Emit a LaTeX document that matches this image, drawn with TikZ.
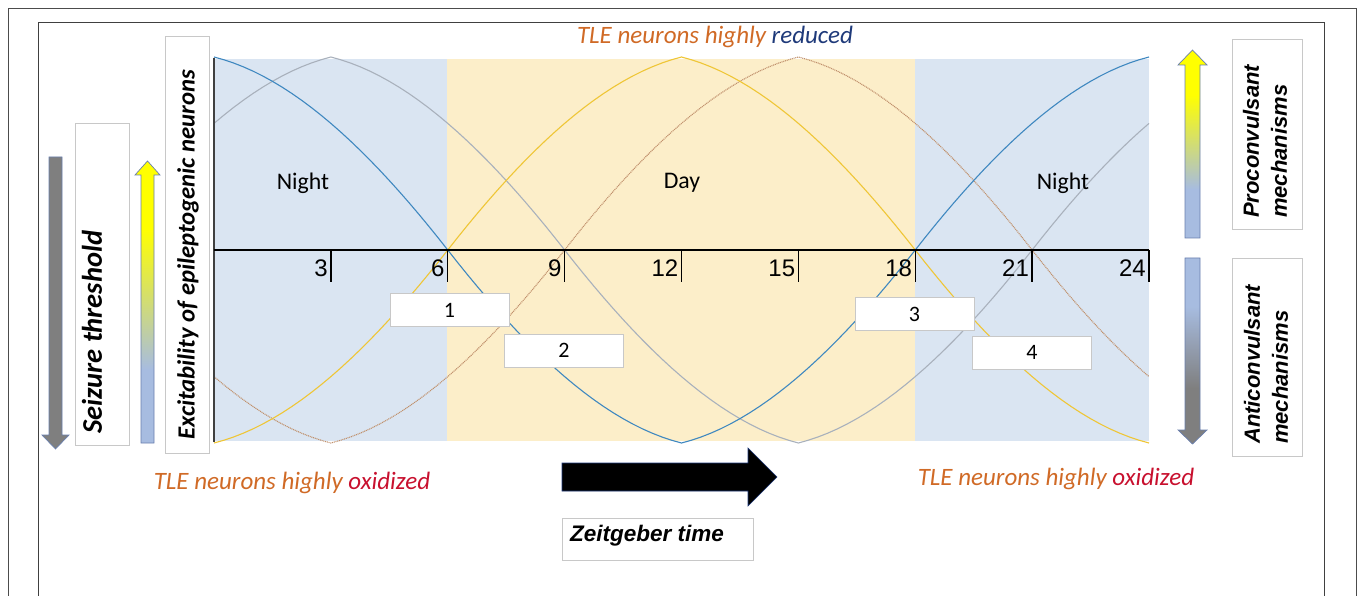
\documentclass[tikz,border=0pt]{standalone}
\usepackage{fontspec}
\newfontfamily\calfont{Carlito}
\newfontfamily\arifont{Liberation Sans}
\definecolor{nightbg}{HTML}{DAE5F2}
\definecolor{daybg}{HTML}{FCEEC9}
\definecolor{cblue}{HTML}{3F88C0}
\definecolor{cgray}{HTML}{A9B1BC}
\definecolor{cyellow}{HTML}{EFC636}
\definecolor{cbrown}{HTML}{C0906C}
\definecolor{tleorange}{HTML}{D06A26}
\definecolor{tlered}{HTML}{C8102E}
\definecolor{tleblue}{HTML}{1F3A7A}
\definecolor{boxgray}{HTML}{C8C8C8}
\definecolor{ablue}{HTML}{A7BCE0}
\definecolor{aborder}{HTML}{6A7FAE}
\definecolor{ayellow}{HTML}{FFFF00}
\definecolor{agray}{HTML}{7F7F7F}
\pgfdeclareverticalshading{yelblue}{100bp}{color(0bp)=(ablue); color(38bp)=(ablue); color(63bp)=(ayellow); color(100bp)=(ayellow)}
\pgfdeclareverticalshading{bluegray}{100bp}{color(0bp)=(agray); color(40bp)=(agray); color(62bp)=(ablue); color(100bp)=(ablue)}
\tikzset{
  declare function={
    ff(\s)=1.55*\s-0.402*\s*\s-0.148*\s*\s*\s;
    ww(\a)=(cos(\a)>=0 ? 1 : -1)*ff(1-acos(abs(cos(\a)))/90);
  },
  numbox/.style={draw=boxgray, fill=white, line width=0.8pt, minimum width=119pt, minimum height=33pt, inner sep=0pt, font=\calfont\fontsize{22}{24}\selectfont},
  lblbox/.style={draw=boxgray, fill=white, line width=0.8pt, inner sep=0pt},
  rotlbl/.style={rotate=90, anchor=west, inner sep=0pt, align=left},
  curve/.style={line width=1.1pt},
  ticklbl/.style={anchor=east, inner sep=0pt, font=\arifont\fontsize{24}{26}\selectfont},
  period/.style={font=\calfont\fontsize{23.8}{26}\selectfont},
  tle/.style={text=tleorange, font=\calfont\itshape\fontsize{25}{28}\selectfont},
}
\begin{document}
\begin{tikzpicture}[x=1pt,y=-1pt]
\useasboundingbox (0,0) rectangle (1358,596);
\clip (0,0) rectangle (1358,596);
% frames
\draw[draw=black!70, line width=0.8pt] (8,8) rectangle (1356,620);
\draw[draw=black!75, line width=1pt] (38,23) rectangle (1324,620);
% backgrounds
\fill[nightbg] (214,59) rectangle (447,441);
\fill[daybg] (447,59) rectangle (915,441);
\fill[nightbg] (915,59) rectangle (1149,441);
% curves
\draw[curve, cgray] plot[domain=0:24, samples=97] ({214+38.958*\x},{250-193*ww(15*(\x-3))});
\draw[curve, cbrown, dash pattern=on 1pt off 0.8pt] plot[domain=0:24, samples=97] ({214+38.958*\x},{250+193*ww(15*(\x-3))});
\draw[curve, cyellow] plot[domain=0:24, samples=97] ({214+38.958*\x},{250+193*ww(15*\x)});
\draw[curve, cblue] plot[domain=0:24, samples=97] ({214+38.958*\x},{250-193*ww(15*\x)});
% axes
\draw[black!75, line width=1.5pt] (214,58) -- (214,442);
\coordinate (ax0) at (214,250);
\coordinate (ax24) at (1149,250);
\draw[black, line width=2pt] (ax0) -- (ax24);
\foreach \t in {3,6,...,24}{
  \draw[black, line width=1.3pt] ({214+38.958*\t},250) -- ({214+38.958*\t},282);
  \node[ticklbl] (tick\t) at ({214+38.958*\t-3},268) {\t};
}
% period labels
\node[period] (night1) at (303,183) {Night};
\node[period] (day) at (682,183) {Day};
\node[period] (night2) at (1063,183) {Night};
% numbered boxes
\node[numbox] (b1) at (449.5,310) {1};
\node[numbox] (b2) at (564,350.5) {2};
\node[numbox] (b3) at (914.5,314) {3};
\node[numbox] (b4) at (1032,352.5) {4};
% TLE texts
\node[tle] (tletop) at (715,37) {TLE neurons highly \textcolor{tleblue}{reduced}};
\node[tle] (tleleft) at (292,483) {TLE neurons highly \textcolor{tlered}{oxidized}};
\node[tle] (tleright) at (1056,479) {TLE neurons highly \textcolor{tlered}{oxidized}};
% left side
\filldraw[fill=agray, draw=aborder, line width=0.7pt] (49,157) -- (62,157) -- (62,435) -- (69,435) -- (55.5,449) -- (42,435) -- (49,435) -- cycle;
\node[lblbox, minimum width=54pt, minimum height=322pt] (seizbox) at (102,284) {};
\node[rotlbl, font=\calfont\bfseries\itshape\fontsize{28.5}{32}\selectfont] (seiz) at (92,434) {Seizure threshold};
\shadedraw[shading=yelblue, draw=aborder, line width=0.7pt] (141,443) -- (154,443) -- (154,175) -- (160,175) -- (147.5,161) -- (135,175) -- (141,175) -- cycle;
\node[lblbox, minimum width=44pt, minimum height=417pt] (excbox) at (187,244.5) {};
\node[rotlbl, font=\calfont\bfseries\itshape\fontsize{24.7}{28}\selectfont] (exc) at (188,440) {Excitability of epileptogenic neurons};
% right side
\shadedraw[shading=yelblue, draw=aborder, line width=0.7pt] (1185,238) -- (1200,238) -- (1200,65) -- (1207,65) -- (1192.5,50) -- (1178,65) -- (1185,65) -- cycle;
\shadedraw[shading=bluegray, draw=aborder, line width=0.7pt] (1185,258) -- (1200,258) -- (1200,430) -- (1207,430) -- (1192.5,444) -- (1178,430) -- (1185,430) -- cycle;
\node[lblbox, minimum width=70pt, minimum height=190pt] (probox) at (1267,134) {};
\node[rotlbl, font=\arifont\bfseries\itshape\fontsize{22}{28}\selectfont] (pro) at (1265,218) {Proconvulsant\\mechanisms};
\node[lblbox, minimum width=70pt, minimum height=198pt] (antibox) at (1267,357) {};
\node[rotlbl, font=\arifont\bfseries\itshape\fontsize{22}{28}\selectfont] (anti) at (1266,444) {Anticonvulsant\\mechanisms};
% time arrow
\filldraw[fill=black, draw=tleblue, line width=0.6pt] (562,463) -- (748,463) -- (748,448) -- (777,477) -- (748,506) -- (748,491) -- (562,491) -- cycle;
\node[lblbox, minimum width=191pt, minimum height=42pt] (zbox) at (657.5,539) {};
\node[anchor=west, inner sep=0pt, font=\arifont\bfseries\itshape\fontsize{22.5}{24}\selectfont] (zt) at (570,536) {Zeitgeber time};
\end{tikzpicture}
\end{document}
